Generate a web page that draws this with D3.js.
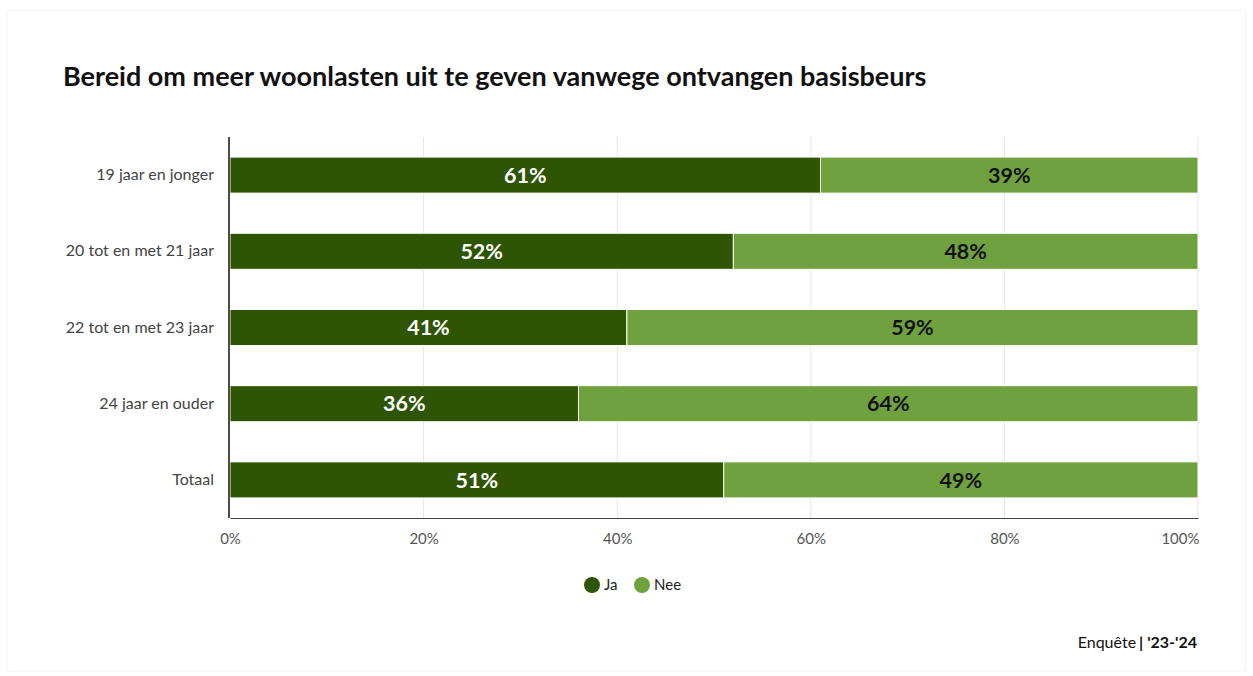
<!DOCTYPE html>
<html>
<head>
<meta charset="utf-8">
<script src="https://cdn.jsdelivr.net/npm/d3@7"></script>
<style>
  html, body { margin: 0; padding: 0; background: #fff; }
  body { font-family: "Source Sans Pro", Lato, "Noto Sans", sans-serif; }
</style>
</head>
<body>
<svg id="chart" width="1253" height="676"></svg>
<script>
// Survey results: willingness to spend more on housing because of the basisbeurs
const categories = ["19 jaar en jonger", "20 tot en met 21 jaar", "22 tot en met 23 jaar", "24 jaar en ouder", "Totaal"];
const seriesNames = ["Ja", "Nee"];
const jaValues = [61, 52, 41, 36, 51];
const neeValues = [39, 48, 59, 64, 49];
const tickValues = [0, 20, 40, 60, 80, 100];
const colors = ["#2d5504", "#6fa23f"];
const labelColors = ["#ffffff", "#111111"];

const svg = d3.select("#chart");
const W = 1253, H = 676;
const font = 'Lato, "Noto Sans", sans-serif';

// card background
svg.append("rect")
  .attr("x", 7.5).attr("y", 10.5).attr("width", W - 15).attr("height", H - 15)
  .attr("fill", "#fff").attr("stroke", "#f6f6f6").attr("stroke-width", 1.5);

// title
svg.append("text")
  .attr("x", 63).attr("y", 86)
  .attr("font-family", font).attr("font-weight", 700).attr("font-size", 27)
  .attr("fill", "#111")
  .text("Bereid om meer woonlasten uit te geven vanwege ontvangen basisbeurs");

const margin = { left: 230, right: 1198, top: 137, bottom: 518 };
const x = d3.scaleLinear().domain([0, 100]).range([margin.left, margin.right]);
const y = d3.scaleBand().domain(categories).range([margin.top, margin.bottom])
  .paddingInner(0.527).paddingOuter(0.2635);

// gridlines
svg.append("g").selectAll("line")
  .data(tickValues.filter(d => d > 0))
  .join("line")
  .attr("x1", d => x(d)).attr("x2", d => x(d))
  .attr("y1", margin.top).attr("y2", margin.bottom)
  .attr("stroke", "#e6e6e6").attr("stroke-width", 1);

// stacked data
const rows = categories.map((c, i) => ({ cat: c, Ja: jaValues[i], Nee: neeValues[i] }));
const stacked = d3.stack().keys(seriesNames)(rows);

const layers = svg.append("g").selectAll("g")
  .data(stacked)
  .join("g")
  .attr("fill", (d, i) => colors[i]);

layers.selectAll("rect")
  .data(d => d)
  .join("rect")
  .attr("x", d => x(d[0]))
  .attr("y", d => y(d.data.cat))
  .attr("width", d => x(d[1]) - x(d[0]))
  .attr("height", y.bandwidth())
  .attr("stroke", "#fff").attr("stroke-width", 1);

// value labels
stacked.forEach((layer, li) => {
  svg.append("g").selectAll("text")
    .data(layer)
    .join("text")
    .attr("x", d => (x(d[0]) + x(d[1])) / 2)
    .attr("y", d => y(d.data.cat) + y.bandwidth() / 2)
    .attr("dy", "0.36em")
    .attr("text-anchor", "middle")
    .attr("font-family", font).attr("font-weight", 700).attr("font-size", 21.5)
    .attr("fill", labelColors[li])
    .text(d => Math.round(d[1] - d[0]) + "%");
});

// left axis
const yAxis = svg.append("g")
  .attr("transform", `translate(${margin.left - 1},0)`)
  .call(d3.axisLeft(y).tickSize(0).tickPadding(15));
yAxis.select(".domain").attr("stroke", "#111").attr("stroke-width", 1.5)
  .attr("d", `M0,${margin.top}V${margin.bottom}`);
yAxis.selectAll("text")
  .attr("font-family", font).attr("font-size", 16).attr("fill", "#444");

// bottom axis
const xAxis = svg.append("g")
  .attr("transform", `translate(0,${margin.bottom})`)
  .call(d3.axisBottom(x).tickValues(tickValues).tickFormat(d => d + "%").tickSize(0).tickPadding(15));
xAxis.select(".domain").attr("stroke", "#444").attr("stroke-width", 1.2);
xAxis.selectAll("text")
  .attr("font-family", font).attr("font-size", 15).attr("fill", "#555");
// keep the last tick label inside the plot edge
xAxis.selectAll(".tick").filter(d => d === 100).select("text")
  .attr("text-anchor", "end").attr("x", 1);

// legend
const legend = svg.append("g").attr("transform", "translate(592,585)");
const legendX = [0, 50];
seriesNames.forEach((name, i) => {
  const g = legend.append("g").attr("transform", `translate(${legendX[i]},0)`);
  g.append("circle").attr("r", 8).attr("fill", colors[i]);
  g.append("text").attr("x", 12).attr("dy", "0.35em")
    .attr("font-family", font).attr("font-size", 15).attr("fill", "#222")
    .text(name);
});

// source note
const note = svg.append("text")
  .attr("x", 1197).attr("y", 648)
  .attr("text-anchor", "end")
  .attr("font-family", font).attr("font-size", 16).attr("fill", "#111");
note.append("tspan").text("Enquête");
note.append("tspan").attr("dx", 3).attr("font-weight", 700).text("| '23-'24");
</script>
</body>
</html>
